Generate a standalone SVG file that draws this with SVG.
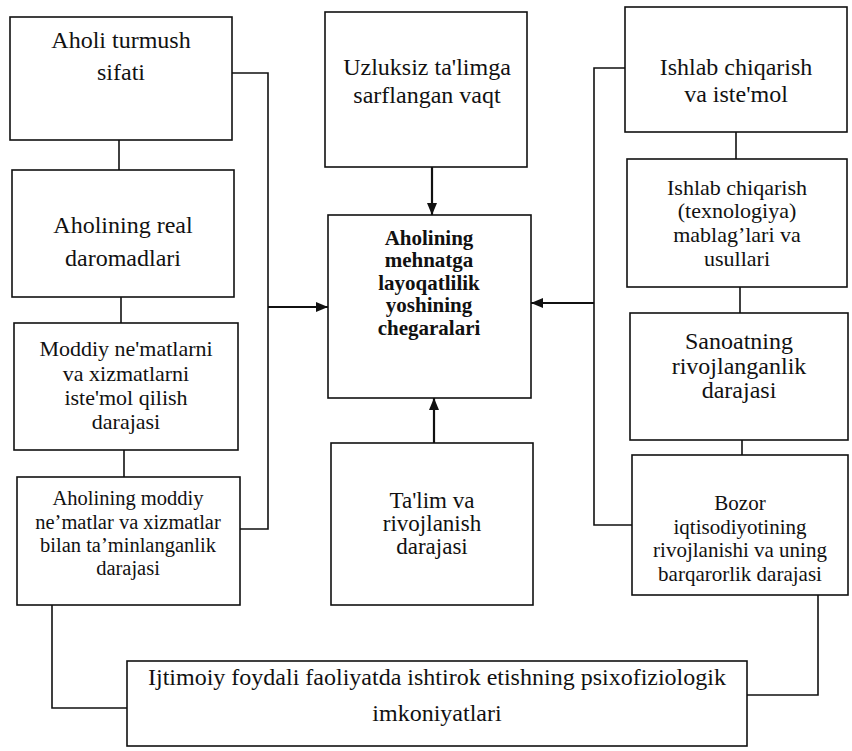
<svg xmlns="http://www.w3.org/2000/svg" width="852" height="751" viewBox="0 0 852 751">
<style>
.box{fill:#fff;stroke:#111;stroke-width:1.6}
.ln{fill:none;stroke:#111;stroke-width:1.6}
.ar{fill:none;stroke:#111;stroke-width:2.2}
text{font-family:"Liberation Serif","Times New Roman",serif;fill:#111;text-anchor:middle}
.t24{font-size:24px}
.t23{font-size:23px}
.t22{font-size:22px}
.t21{font-size:21px}
.t20{font-size:20.5px}
.b{font-size:21px;font-weight:bold}
</style>
<defs>
<marker id="ah" viewBox="0 0 12 10" refX="12" refY="5" markerWidth="12" markerHeight="10" markerUnits="userSpaceOnUse" orient="auto">
<path d="M0,0 L12,5 L0,10 Z" fill="#111"/>
</marker>
</defs>
<rect width="852" height="751" fill="#fff"/>
<g id="connectors">
<polyline class="ln" points="232,73 268,73 268,529 240,529"/>
<line class="ar" x1="268" y1="307" x2="328" y2="307" marker-end="url(#ah)"/>
<polyline class="ln" points="625,68 594,68 594,525 632,525"/>
<line class="ar" x1="594" y1="303" x2="531" y2="303" marker-end="url(#ah)"/>
<line class="ar" x1="432" y1="167" x2="432" y2="215" marker-end="url(#ah)"/>
<line class="ar" x1="434" y1="443" x2="434" y2="398" marker-end="url(#ah)"/>
<line class="ln" x1="119" y1="140" x2="119" y2="170"/>
<line class="ln" x1="121" y1="297" x2="121" y2="323"/>
<line class="ln" x1="124" y1="450" x2="124" y2="477"/>
<line class="ln" x1="736" y1="132" x2="736" y2="159"/>
<line class="ln" x1="740" y1="287" x2="740" y2="313"/>
<line class="ln" x1="742" y1="440" x2="742" y2="455"/>
<polyline class="ln" points="52,605 52,708 127,708"/>
<polyline class="ln" points="818,595 818,695 747,695"/>
</g>
<g id="n-aholi-turmush">
<rect class="box" x="10" y="17" width="222" height="123"/>
<text class="t24" x="121" y="48">Aholi turmush</text>
<text class="t24" x="121" y="80">sifati</text>
</g>
<g id="n-real-daromad">
<rect class="box" x="12" y="170" width="222" height="127"/>
<text class="t24" x="123" y="233">Aholining real</text>
<text class="t24" x="123" y="266">daromadlari</text>
</g>
<g id="n-moddiy-istemol">
<rect class="box" x="14" y="323" width="224" height="127"/>
<text class="t22" x="126" y="356">Moddiy ne'matlarni</text>
<text class="t22" x="126" y="381">va xizmatlarni</text>
<text class="t22" x="126" y="405">iste'mol qilish</text>
<text class="t22" x="126" y="429">darajasi</text>
</g>
<g id="n-taminlanganlik">
<rect class="box" x="17" y="477" width="223" height="128"/>
<text class="t20" x="128" y="505">Aholining moddiy</text>
<text class="t20" x="128" y="529">ne’matlar va xizmatlar</text>
<text class="t20" x="128" y="552">bilan ta’minlanganlik</text>
<text class="t20" x="128" y="575">darajasi</text>
</g>
<g id="n-uzluksiz">
<rect class="box" x="325" y="12" width="202" height="155"/>
<text class="t24" x="427" y="75">Uzluksiz ta'limga</text>
<text class="t24" x="427" y="103">sarflangan vaqt</text>
</g>
<g id="n-center">
<rect class="box" x="328" y="215" width="203" height="183"/>
<text class="b" x="429" y="245">Aholining</text>
<text class="b" x="429" y="267">mehnatga</text>
<text class="b" x="429" y="290">layoqatlilik</text>
<text class="b" x="429" y="312">yoshining</text>
<text class="b" x="429" y="335">chegaralari</text>
</g>
<g id="n-talim">
<rect class="box" x="331" y="443" width="202" height="162"/>
<text class="t23" x="432" y="508">Ta'lim va</text>
<text class="t23" x="432" y="531">rivojlanish</text>
<text class="t23" x="432" y="554">darajasi</text>
</g>
<g id="n-ishlab-istemol">
<rect class="box" x="625" y="7" width="222" height="125"/>
<text class="t24" x="736" y="75">Ishlab chiqarish</text>
<text class="t24" x="736" y="102">va iste'mol</text>
</g>
<g id="n-texnologiya">
<rect class="box" x="627" y="159" width="220" height="128"/>
<text class="t22" x="737" y="195">Ishlab chiqarish</text>
<text class="t22" x="737" y="218">(texnologiya)</text>
<text class="t22" x="737" y="242">mablag’lari va</text>
<text class="t22" x="737" y="266">usullari</text>
</g>
<g id="n-sanoat">
<rect class="box" x="630" y="313" width="218" height="127"/>
<text class="t24" x="739" y="349">Sanoatning</text>
<text class="t24" x="739" y="374">rivojlanganlik</text>
<text class="t24" x="739" y="398">darajasi</text>
</g>
<g id="n-bozor">
<rect class="box" x="632" y="455" width="216" height="140"/>
<text class="t21" x="740" y="510">Bozor</text>
<text class="t21" x="740" y="533.5">iqtisodiyotining</text>
<text class="t21" x="740" y="557">rivojlanishi va uning</text>
<text class="t21" x="740" y="580.5">barqarorlik darajasi</text>
</g>
<g id="n-ijtimoiy">
<rect class="box" x="127" y="661" width="620" height="85"/>
<text class="t24" x="437" y="685">Ijtimoiy foydali faoliyatda ishtirok etishning psixofiziologik</text>
<text class="t24" x="437" y="721">imkoniyatlari</text>
</g>
</svg>
